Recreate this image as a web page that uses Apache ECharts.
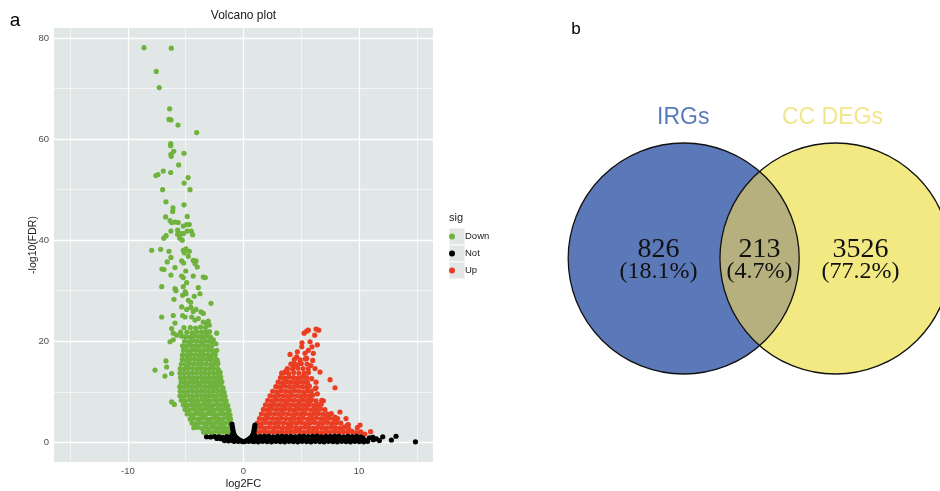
<!DOCTYPE html>
<html><head><meta charset="utf-8">
<script src="https://cdn.jsdelivr.net/npm/echarts@6/dist/echarts.min.js"></script>
<style>html,body{margin:0;padding:0;background:#fff}#c{width:940px;height:491px}</style>
</head><body><div id="c"></div>
<script>
const sigLevels = ['Down', 'Not', 'Up'];

const downPoints = [
[-8.61,78.1],[-6.25,78.0],[-7.55,73.4],[-7.29,70.2],[-6.39,66.0],[-6.45,63.9],[-6.28,63.8],[-5.67,62.8],[-4.05,61.3],
[-6.30,59.1],[-6.30,58.7],[-6.04,57.6],[-5.15,57.2],[-6.28,57.0],[-6.25,56.6],[-5.61,54.9],[-6.94,53.7],[-6.30,53.4],[-7.58,52.8],[-7.40,53.0],[-4.79,52.4],[-5.14,51.3],[-7.00,50.0],[-4.63,50.0],[-6.71,47.6],[-5.15,47.0],[-6.10,46.4],[-6.13,45.7],[-4.87,44.7],[-6.74,44.6],[-6.36,43.9],[-6.22,43.5],[-5.93,43.6],[-5.65,43.5],[-5.21,42.8],[-4.92,43.1],[-4.69,43.1],[-6.28,41.8],[-5.70,42.0],[-5.70,41.2],[-5.44,41.3],[-5.21,41.3],[-4.87,41.8],[-4.52,41.8],[-4.40,41.1],[-6.70,40.9],[-6.90,40.4],[-5.52,40.4],[-5.30,40.0],
[-7.95,38.0],[-7.17,38.2],[-6.45,37.8],[-6.28,36.6],[-5.21,38.0],[-4.98,38.3],[-5.12,37.5],[-4.69,37.8],[-4.78,36.8],[-5.35,35.9],[-5.18,35.5],[-4.35,36.0],[-4.11,35.9],[-4.20,35.4],[-4.00,34.7],[-6.60,35.7],[-5.93,34.6],[-7.06,34.3],[-6.88,34.2],[-6.28,33.1],[-5.35,32.9],[-5.21,32.6],[-4.35,32.9],[-3.48,32.7],[-3.31,32.6],[-5.00,33.9],
[-7.08,30.8],[-5.93,30.4],[-5.84,30.0],[-5.21,30.8],[-4.92,31.6],[-3.91,30.6],[-3.77,29.4],[-5.27,29.1],[-4.98,29.4],[-5.04,29.8],[-4.26,28.9],[-6.02,28.3],[-4.78,28.1],[-4.57,27.7],[-2.81,27.5],[-5.35,26.8],[-4.92,26.3],[-4.55,26.7],[-4.35,25.9],[-4.11,26.3],[-3.68,25.8],[-3.48,25.5],[-7.08,24.8],[-6.08,25.1],[-5.27,25.1],[-5.06,24.8],[-4.48,24.8],[-4.20,24.2],[-3.91,24.5],[-3.48,23.8],[-3.19,23.5],[-3.05,24.0],[-2.96,23.2],[-5.93,23.6],[-6.22,22.5],[-6.08,21.6],[-5.44,21.8],[-5.15,22.7],[-2.32,21.6],[-6.36,19.9],[-2.61,20.3],[-2.38,19.5],[-2.32,18.2],[-2.27,16.2],[-3.05,16.9],[-2.15,14.3],[-2.18,12.3],[-2.38,11.0],[-7.66,14.3],[-6.71,16.1],[-6.65,14.9],[-6.80,13.1],[-6.22,13.6],[-6.22,8.0],[-5.99,7.5],[-5.78,21.2],[-5.35,21.0],[-6.08,20.3],
[-4.6,22.7],[-4.15,22.6],[-3.72,22.8],[-3.3,22.7],
[-4.9,21.8],[-4.45,21.7],[-4.05,21.9],[-3.62,21.8],[-3.25,21.75],[-2.95,21.9],
[-5.0,20.9],[-4.6,20.8],[-4.22,21.0],[-3.86,20.9],[-3.5,20.85],[-3.12,21.0],[-2.85,20.8],
[-5.1,20.0],[-4.74,19.9],[-4.38,20.1],[-4.02,20.0],[-3.66,19.95],[-3.3,20.1],[-2.94,20.0],[-2.7,19.8],
[-5.28,19.1],[-4.92,19.0],[-4.56,19.2],[-4.2,19.1],[-3.84,19.05],[-3.48,19.2],[-3.12,19.1],[-2.76,19.0],
[-5.2,18.2],[-4.84,18.1],[-4.48,18.3],[-4.12,18.2],[-3.76,18.15],[-3.4,18.3],[-3.04,18.2],[-2.68,18.1],
[-5.28,17.3],[-4.92,17.2],[-4.56,17.4],[-4.2,17.3],[-3.84,17.25],[-3.48,17.4],[-3.12,17.3],[-2.76,17.2],[-2.45,17.35],
[-5.3,16.4],[-4.94,16.3],[-4.58,16.5],[-4.22,16.4],[-3.86,16.35],[-3.5,16.5],[-3.14,16.4],[-2.78,16.3],[-2.4,16.45],
[-5.38,15.5],[-5.02,15.4],[-4.66,15.6],[-4.3,15.5],[-3.94,15.45],[-3.58,15.6],[-3.22,15.5],[-2.86,15.4],[-2.5,15.55],[-2.22,15.6],
[-5.48,14.6],[-5.12,14.5],[-4.76,14.7],[-4.4,14.6],[-4.04,14.55],[-3.68,14.7],[-3.32,14.6],[-2.96,14.5],[-2.6,14.65],[-2.25,14.6],
[-5.5,13.7],[-5.14,13.6],[-4.78,13.8],[-4.42,13.7],[-4.06,13.65],[-3.7,13.8],[-3.34,13.7],[-2.98,13.6],[-2.62,13.75],[-2.28,13.7],[-2.02,13.8],
[-5.45,12.8],[-5.1,12.7],[-4.74,12.9],[-4.38,12.8],[-4.02,12.75],[-3.66,12.9],[-3.3,12.8],[-2.94,12.7],[-2.58,12.85],[-2.24,12.8],[-1.97,12.9],
[-5.4,11.9],[-5.04,11.8],[-4.68,12.0],[-4.32,11.9],[-3.96,11.85],[-3.6,12.0],[-3.24,11.9],[-2.88,11.8],[-2.52,11.95],[-2.17,11.9],[-1.87,12.0],
[-5.52,11.0],[-5.16,10.9],[-4.8,11.1],[-4.44,11.0],[-4.08,10.95],[-3.72,11.1],[-3.36,11.0],[-3.0,10.9],[-2.64,11.05],[-2.28,11.0],[-1.93,11.1],[-1.76,10.8],
[-5.48,10.1],[-5.12,10.0],[-4.76,10.2],[-4.4,10.1],[-4.04,10.05],[-3.68,10.2],[-3.33,10.1],[-2.98,10.0],[-2.62,10.15],[-2.27,10.1],[-1.92,10.2],[-1.68,9.9],
[-5.5,9.2],[-5.14,9.1],[-4.78,9.3],[-4.42,9.2],[-4.06,9.15],[-3.7,9.3],[-3.35,9.2],[-3.0,9.1],[-2.65,9.25],[-2.3,9.2],[-1.95,9.3],[-1.6,9.1],
[-5.38,8.3],[-5.02,8.2],[-4.66,8.4],[-4.3,8.3],[-3.95,8.25],[-3.6,8.4],[-3.25,8.3],[-2.9,8.2],[-2.55,8.35],[-2.2,8.3],[-1.85,8.4],[-1.5,8.2],
[-5.2,7.4],[-4.85,7.3],[-4.5,7.5],[-4.14,7.4],[-3.78,7.35],[-3.43,7.5],[-3.08,7.4],[-2.72,7.3],[-2.37,7.45],[-2.02,7.4],[-1.67,7.5],[-1.36,7.25],
[-5.05,6.5],[-4.7,6.4],[-4.34,6.6],[-3.98,6.5],[-3.63,6.45],[-3.28,6.6],[-2.92,6.5],[-2.57,6.4],[-2.22,6.55],[-1.86,6.5],[-1.52,6.6],[-1.25,6.3],
[-4.88,5.6],[-4.52,5.5],[-4.17,5.7],[-3.8,5.6],[-3.45,5.55],[-3.1,5.7],[-2.75,5.6],[-2.4,5.5],[-2.04,5.65],[-1.7,5.6],[-1.35,5.7],[-1.17,5.4],
[-4.62,4.6],[-4.28,4.75],[-3.92,4.65],[-3.57,4.8],[-3.22,4.7],[-2.87,4.6],[-2.52,4.75],[-2.16,4.7],[-1.82,4.65],[-1.47,4.8],[-1.12,4.6],
[-4.45,3.8],[-4.1,3.7],[-3.74,3.9],[-3.4,3.75],[-3.05,3.85],[-2.7,3.7],[-2.34,3.9],[-2.0,3.8],[-1.65,3.75],[-1.3,3.9],[-1.05,3.6],
[-4.3,2.9],[-3.96,3.0],[-3.6,2.8],[-3.24,3.0],[-2.9,2.85],[-2.55,3.0],[-2.18,2.9],[-1.85,2.95],[-1.5,2.8],[-1.15,3.0],[-1.02,2.6],
[-3.45,2.0],[-3.1,2.1],[-2.74,1.9],[-2.4,2.2],[-2.05,1.95],[-1.7,2.1],[-1.36,2.0],[-1.06,2.15]
];

const upPoints = [
[6.28,22.4],[6.51,22.2],[5.47,22.0],[5.24,21.6],[6.16,21.2],[5.61,22.2],[5.76,19.9],[5.06,19.7],[6.39,19.3],[5.93,18.9],[4.03,17.4],[4.66,17.9],[5.32,17.6],[5.47,16.6],[5.99,16.2],[4.31,15.6],[4.89,15.6],[3.59,13.9],[6.62,13.9],[7.49,12.4],[7.92,10.8],[6.19,10.6],[6.39,9.6],[5.76,8.2],[6.91,8.2],[8.35,6.0],[8.87,4.7],[8.99,3.4],[9.85,2.9],[7.92,5.0],[7.34,5.3],[10.09,3.4],[11.0,2.1],[10.5,1.6],[9.07,3.5],
[3.3,13.7],[3.74,14.3],[4.6,16.9],[5.04,18.9],[5.61,18.2],[6.04,17.6],[5.82,15.2],[6.19,14.6],[5.18,12.9],[5.9,12.6],[6.28,11.9],[4.31,14.9],[6.28,10.8],[6.77,8.3],
[4.4,16.4],[4.9,16.3],[5.35,16.5],
[4.1,15.5],[4.55,15.4],[5.0,15.6],[5.5,15.5],
[3.8,14.6],[4.25,14.5],[4.7,14.7],[5.15,14.6],[5.6,14.55],
[3.45,13.7],[3.9,13.6],[4.35,13.8],[4.8,13.7],[5.25,13.65],[5.62,13.8],
[3.2,12.8],[3.58,12.7],[3.96,12.9],[4.34,12.8],[4.72,12.75],[5.1,12.9],[5.48,12.8],
[3.0,11.9],[3.38,11.8],[3.76,12.0],[4.14,11.9],[4.52,11.85],[4.9,12.0],[5.28,11.9],[5.55,11.8],
[2.8,11.0],[3.18,10.9],[3.56,11.1],[3.94,11.0],[4.32,10.95],[4.7,11.1],[5.08,11.0],[5.46,10.9],[5.7,11.1],
[2.52,10.1],[2.9,10.0],[3.28,10.2],[3.66,10.1],[4.04,10.05],[4.42,10.2],[4.8,10.1],[5.18,10.0],[5.56,10.15],[5.85,10.1],
[2.3,9.2],[2.68,9.1],[3.06,9.3],[3.44,9.2],[3.82,9.15],[4.2,9.3],[4.58,9.2],[4.96,9.1],[5.34,9.25],[5.72,9.2],[6.0,9.35],
[2.1,8.3],[2.48,8.2],[2.86,8.4],[3.24,8.3],[3.62,8.25],[4.0,8.4],[4.38,8.3],[4.76,8.2],[5.14,8.35],[5.52,8.3],[5.9,8.4],[6.28,8.2],
[1.9,7.4],[2.28,7.3],[2.66,7.5],[3.04,7.4],[3.42,7.35],[3.8,7.5],[4.18,7.4],[4.56,7.3],[4.94,7.45],[5.32,7.4],[5.7,7.5],[6.08,7.3],[6.46,7.4],[6.72,7.55],
[1.72,6.5],[2.1,6.4],[2.48,6.6],[2.86,6.5],[3.24,6.45],[3.62,6.6],[4.0,6.5],[4.38,6.4],[4.76,6.55],[5.14,6.5],[5.52,6.6],[5.9,6.4],[6.28,6.5],[6.66,6.6],[7.05,6.45],
[1.55,5.6],[1.93,5.5],[2.31,5.7],[2.69,5.6],[3.07,5.55],[3.45,5.7],[3.83,5.6],[4.21,5.5],[4.59,5.65],[4.97,5.6],[5.35,5.7],[5.73,5.5],[6.11,5.6],[6.49,5.7],[6.87,5.55],[7.25,5.6],[7.6,5.7],
[1.38,4.7],[1.76,4.6],[2.14,4.8],[2.52,4.7],[2.9,4.65],[3.28,4.8],[3.66,4.7],[4.04,4.6],[4.42,4.75],[4.8,4.7],[5.18,4.8],[5.56,4.6],[5.94,4.7],[6.32,4.8],[6.7,4.65],[7.08,4.7],[7.46,4.8],[7.84,4.6],[8.15,4.7],
[1.2,3.8],[1.58,3.7],[1.96,3.9],[2.34,3.8],[2.72,3.75],[3.1,3.9],[3.48,3.8],[3.86,3.7],[4.24,3.85],[4.62,3.8],[5.0,3.9],[5.38,3.7],[5.76,3.8],[6.14,3.9],[6.52,3.75],[6.9,3.8],[7.28,3.9],[7.66,3.7],[8.04,3.85],[8.42,3.8],
[1.1,2.9],[1.48,3.0],[1.86,2.8],[2.24,3.0],[2.62,2.85],[3.0,3.0],[3.38,2.9],[3.76,2.8],[4.14,3.0],[4.52,2.9],[4.9,2.85],[5.28,3.0],[5.66,2.9],[6.04,2.8],[6.42,3.0],[6.8,2.9],[7.18,2.85],[7.56,3.0],[7.94,2.9],[8.32,2.8],[8.7,3.0],[9.1,2.7],
[1.05,2.1],[1.42,2.0],[1.8,2.2],[2.18,1.95],[2.56,2.1],[2.94,2.0],[3.32,2.2],[3.7,1.9],[4.08,2.1],[4.46,2.05],[4.84,2.2],[5.22,1.95],[5.6,2.1],[5.98,2.0],[6.36,2.15],[6.74,1.9],[7.12,2.1],[7.5,2.0],[7.88,2.2],[8.26,1.95],[8.64,2.1],[9.02,2.0],[9.4,2.15],[9.78,1.9],[10.15,2.05]
];

const notPoints = [
[-3.2,1.1],[-2.85,1.05],[-2.5,1.15],[-2.15,1.1],[-1.8,1.0],[-1.45,1.15],[-1.1,1.1],[-2.3,0.75],[-1.95,0.7],[-1.6,0.75],[-1.25,0.7],[-1.65,0.35],[-1.3,0.3],[-0.95,0.35],[-1.0,0.8],
[-1.0,3.6],[-0.96,3.1],[-0.93,2.6],[-0.89,2.1],[-0.85,1.7],[-0.97,1.5],[-0.78,1.35],[-0.68,1.05],[-0.58,0.85],[-0.48,0.65],[-0.38,0.5],[-0.28,0.35],[-0.16,0.25],[-0.05,0.15],[0.05,0.15],[0.16,0.25],[0.28,0.35],[0.38,0.5],[0.48,0.65],[0.58,0.85],[0.68,1.05],[0.78,1.35],[0.86,1.75],[0.9,2.2],[0.93,2.6],[0.96,3.0],[0.99,3.4],[0.95,1.4],[-0.7,0.5],[-0.45,0.2],[0.45,0.2],[0.7,0.5],[-0.8,0.2],[0.8,0.2],
[1.05,1.2],[1.43,1.15],[1.81,1.25],[2.19,1.2],[2.57,1.1],[2.95,1.2],[3.33,1.25],[3.71,1.15],[4.09,1.2],[4.47,1.1],[4.85,1.25],[5.23,1.2],[5.61,1.15],[5.99,1.2],[6.37,1.25],[6.75,1.1],[7.13,1.2],[7.51,1.15],[7.89,1.25],[8.27,1.2],[8.65,1.1],[9.03,1.2],[9.41,1.15],[9.79,1.2],[10.15,1.1],
[1.2,0.85],[1.58,0.8],[1.96,0.9],[2.34,0.85],[2.72,0.8],[3.1,0.9],[3.48,0.85],[3.86,0.8],[4.24,0.9],[4.62,0.85],[5.0,0.8],[5.38,0.9],[5.76,0.85],[6.14,0.8],[6.52,0.9],[6.9,0.85],[7.28,0.8],[7.66,0.9],[8.04,0.85],[8.42,0.8],[8.8,0.9],[9.18,0.85],[9.56,0.8],[9.94,0.9],[10.32,0.85],
[1.0,0.5],[1.38,0.45],[1.76,0.55],[2.14,0.5],[2.52,0.45],[2.9,0.55],[3.28,0.5],[3.66,0.45],[4.04,0.55],[4.42,0.5],[4.8,0.45],[5.18,0.55],[5.56,0.5],[5.94,0.45],[6.32,0.55],[6.7,0.5],[7.08,0.45],[7.46,0.55],[7.84,0.5],[8.22,0.45],[8.6,0.55],[8.98,0.5],[9.36,0.45],[9.74,0.55],[10.12,0.5],[10.5,0.45],
[0.9,0.15],[1.28,0.1],[1.66,0.2],[2.04,0.15],[2.42,0.1],[2.8,0.2],[3.18,0.15],[3.56,0.1],[3.94,0.2],[4.32,0.15],[4.7,0.1],[5.08,0.2],[5.46,0.15],[5.84,0.1],[6.22,0.2],[6.6,0.15],[6.98,0.1],[7.36,0.2],[7.74,0.15],[8.12,0.1],[8.5,0.2],[8.88,0.15],[9.26,0.1],[9.64,0.2],[10.02,0.15],[10.4,0.1],[10.75,0.2],
[10.9,0.9],[11.24,0.5],[11.2,1.0],[11.5,0.7],[11.76,0.35],[12.05,1.1],[12.8,0.45],[13.2,1.2],[14.88,0.1]
];

const xTickValues = [-10, 0, 10];
const yTickValues = [0, 20, 40, 60, 80];
const xMinorGrid = [-15, -5, 5, 15];
const yMinorGrid = [10, 30, 50, 70];

const vennSetNames = ['IRGs', 'CC DEGs'];
const vennCounts = [826, 213, 3526];
const vennPercents = ['(18.1%)', '(4.7%)', '(77.2%)'];

const SANS = '"Liberation Sans", Arial, Helvetica, sans-serif';
const SERIF = '"Liberation Serif", "Times New Roman", serif';
const VENN_HALF_GAP = 0.657;

function renderVenn(params, api) {
  const cA = api.coord([-VENN_HALF_GAP, 0]);
  const cB = api.coord([VENN_HALF_GAP, 0]);
  const r = api.size([1, 0])[0];
  const mx = (cA[0] + cB[0]) / 2;
  const d = cB[0] - cA[0];
  const h = Math.sqrt(r * r - d * d / 4);
  const cy = cA[1];
  const lens = 'M' + mx + ' ' + (cy - h) + ' A' + r + ' ' + r + ' 0 0 1 ' + mx + ' ' + (cy + h) +
               ' A' + r + ' ' + r + ' 0 0 1 ' + mx + ' ' + (cy - h) + ' Z';
  const txt = (x, y, text, font, fill) => ({
    type: 'text', x: x, y: y,
    style: { text: text, font: font, fill: fill, align: 'center', verticalAlign: 'middle' }
  });
  const regionX = [cA[0] - 0.218 * r, mx, cB[0] + 0.216 * r];
  const children = [
    { type: 'circle', shape: { cx: cA[0], cy: cy, r: r }, style: { fill: '#5b78b8' } },
    { type: 'circle', shape: { cx: cB[0], cy: cy, r: r }, style: { fill: '#f2e983' } },
    { type: 'path', shape: { pathData: lens }, style: { fill: '#b5b07e' } },
    { type: 'circle', shape: { cx: cA[0], cy: cy, r: r }, style: { fill: null, stroke: '#111', lineWidth: 1.3 } },
    { type: 'circle', shape: { cx: cB[0], cy: cy, r: r }, style: { fill: null, stroke: '#111', lineWidth: 1.3 } },
    txt(cA[0] - 0.5, cy - 1.215 * r, vennSetNames[0], '23px ' + SANS, '#5a79ba'),
    txt(cB[0] - 3, cy - 1.215 * r, vennSetNames[1], '23px ' + SANS, '#f3e58a')
  ];
  for (let i = 0; i < 3; i++) {
    children.push(txt(regionX[i], cy - 0.08 * r, String(vennCounts[i]), '28px ' + SERIF, '#111'));
    children.push(txt(regionX[i], cy + 0.112 * r, vennPercents[i], '24px ' + SERIF, '#111'));
  }
  return { type: 'group', children: children };
}

const gridLineData = [].concat(
  xTickValues.map(v => ({ xAxis: v, lineStyle: { color: '#ffffff', width: 1.3, type: 'solid' } })),
  xMinorGrid.map(v => ({ xAxis: v, lineStyle: { color: '#ffffff', width: 0.6, type: 'solid' } })),
  yTickValues.map(v => ({ yAxis: v, lineStyle: { color: '#ffffff', width: 1.3, type: 'solid' } })),
  yMinorGrid.map(v => ({ yAxis: v, lineStyle: { color: '#ffffff', width: 0.6, type: 'solid' } }))
);

const chart = echarts.init(document.getElementById('c'), null, { renderer: 'canvas' });
const option = {
  animation: false,
  backgroundColor: '#ffffff',
  textStyle: { fontFamily: SANS },
  grid: [
    { left: 54, top: 28, width: 379, height: 434, show: true, backgroundColor: '#e1e6e6', borderWidth: 0,
      containLabel: false, outerBoundsMode: 'none' },
    { left: 540, top: 0, width: 400, height: 491, show: false, containLabel: false, outerBoundsMode: 'none' }
  ],
  xAxis: [
    {
      type: 'value', gridIndex: 0, min: -16.4, max: 16.4,
      name: 'log2FC', nameLocation: 'middle', nameGap: 16, nameMoveOverlap: false,
      nameTextStyle: { fontSize: 11, color: '#1a1a1a', fontFamily: SANS },
      axisLine: { show: false },
      axisTick: { show: true, customValues: xTickValues, length: 3, lineStyle: { color: '#333' } },
      axisLabel: { customValues: xTickValues, fontSize: 9.5, color: '#4d4d4d', margin: 4, fontFamily: SANS },
      splitLine: { show: false }
    },
    { type: 'value', gridIndex: 1, min: -1.901, max: 1.562, show: false }
  ],
  yAxis: [
    {
      type: 'value', gridIndex: 0, min: -3.9, max: 82,
      name: '-log10(FDR)', nameLocation: 'middle', nameGap: 15, nameMoveOverlap: false,
      nameTextStyle: { fontSize: 10.5, color: '#1a1a1a', fontFamily: SANS },
      axisLine: { show: false },
      axisTick: { show: true, customValues: yTickValues, length: 3, lineStyle: { color: '#333' } },
      axisLabel: { customValues: yTickValues, fontSize: 9.5, color: '#4d4d4d', margin: 5, fontFamily: SANS },
      splitLine: { show: false }
    },
    { type: 'value', gridIndex: 1, min: -2.013, max: 2.238, show: false }
  ],
  legend: {
    data: sigLevels, orient: 'vertical', left: 449, top: 228, padding: 0,
    itemWidth: 16, itemHeight: 6, itemGap: 0, icon: 'circle', selectedMode: false, z: 10,
    textStyle: { fontSize: 9.5, color: '#1a1a1a', lineHeight: 17, fontFamily: SANS }
  },
  graphic: [
    { type: 'rect', z: 1, shape: { x: 449, y: 228, width: 16, height: 17 }, style: { fill: '#e1e5e5', stroke: '#ffffff', lineWidth: 1 } },
    { type: 'rect', z: 1, shape: { x: 449, y: 245, width: 16, height: 17 }, style: { fill: '#e1e5e5', stroke: '#ffffff', lineWidth: 1 } },
    { type: 'rect', z: 1, shape: { x: 449, y: 262, width: 16, height: 17 }, style: { fill: '#e1e5e5', stroke: '#ffffff', lineWidth: 1 } },
    { type: 'text', z: 5, x: 449, y: 218, style: { text: 'sig', font: '11px ' + SANS, fill: '#1a1a1a', align: 'left', verticalAlign: 'middle' } },
    { type: 'text', z: 5, x: 243.5, y: 15.5, style: { text: 'Volcano plot', font: '12px ' + SANS, fill: '#1a1a1a', align: 'center', verticalAlign: 'middle' } },
    { type: 'text', z: 5, x: 15, y: 21, style: { text: 'a', font: '19px ' + SANS, fill: '#000', align: 'center', verticalAlign: 'middle' } },
    { type: 'text', z: 5, x: 576, y: 29, style: { text: 'b', font: '17px ' + SANS, fill: '#000', align: 'center', verticalAlign: 'middle' } }
  ],
  series: [
    {
      type: 'scatter', name: 'gridlines', xAxisIndex: 0, yAxisIndex: 0, data: [], silent: true,
      markLine: { silent: true, z: 1, symbol: ['none', 'none'], label: { show: false }, animation: false,
        emphasis: { disabled: true }, lineStyle: { color: '#fff' }, data: gridLineData }
    },
    { type: 'scatter', name: 'Down', xAxisIndex: 0, yAxisIndex: 0, data: downPoints, symbolSize: 5.2,
      itemStyle: { color: '#6fb23c', opacity: 1 }, z: 3 },
    { type: 'scatter', name: 'Up', xAxisIndex: 0, yAxisIndex: 0, data: upPoints, symbolSize: 5.2,
      itemStyle: { color: '#ea3d21', opacity: 1 }, z: 3 },
    { type: 'scatter', name: 'Not', xAxisIndex: 0, yAxisIndex: 0, data: notPoints, symbolSize: 5.2,
      itemStyle: { color: '#000000', opacity: 1 }, z: 4 },
    { type: 'custom', name: 'venn', xAxisIndex: 1, yAxisIndex: 1, data: [[0, 0]], renderItem: renderVenn, silent: true, z: 2 }
  ]
};
chart.setOption(option);
</script>
</body></html>
